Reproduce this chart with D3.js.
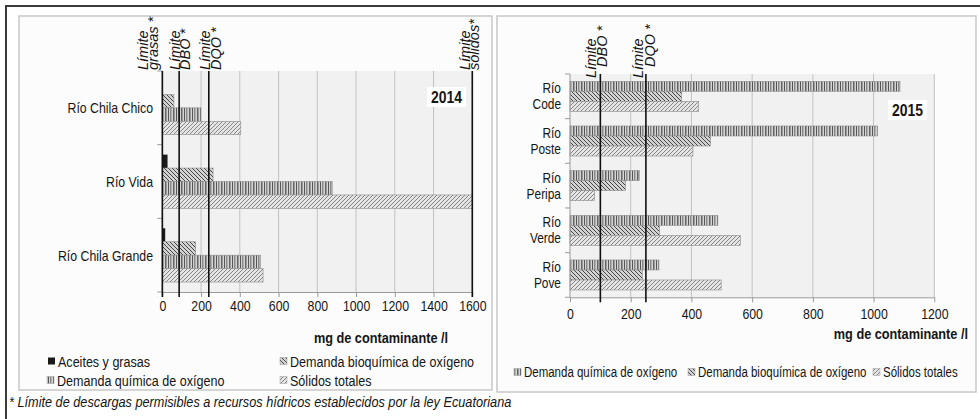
<!DOCTYPE html>
<html><head><meta charset="utf-8">
<script src="https://cdn.jsdelivr.net/npm/d3@7"></script>
<style>
body{margin:0;background:#fff;}
svg{display:block;}
text{font-family:"Liberation Sans",Arial,sans-serif;fill:#151515;}
</style></head><body>
<svg id="c" width="980" height="419"></svg>
<script>
// ---------- DATA ----------
const cats2014 = ["Río Chila Chico", "Río Vida", "Río Chila Grande"];
const aceites2014 = [3, 27, 15];
const dbo2014 = [60, 262, 172];
const dqo2014 = [199, 877, 508];
const solidos2014 = [405, 1600, 520];
const ticks2014 = [0, 200, 400, 600, 800, 1000, 1200, 1400, 1600];
const limitLabels2014 = [["Límite", "grasas *"], ["Límite", "DBO *"], ["Límite", "DQO *"], ["Límite", "sólidos*"]];
const limitValues2014 = [0.3, 87, 240, 1600];
const legend2014 = ["Aceites y grasas", "Demanda bioquímica de oxígeno", "Demanda química de oxígeno", "Sólidos totales"];

const cats2015 = [["Río", "Code"], ["Río", "Poste"], ["Río", "Peripa"], ["Río", "Verde"], ["Río", "Pove"]];
const dqo2015 = [1087, 1013, 229, 487, 293];
const dbo2015 = [368, 463, 183, 295, 238];
const solidos2015 = [424, 405, 81, 561, 498];
const ticks2015 = [0, 200, 400, 600, 800, 1000, 1200];
const limitLabels2015 = [["Límite", "DBO *"], ["Límite", "DQO *"]];
const limitValues2015 = [100, 250];
const legend2015 = ["Demanda química de oxígeno", "Demanda bioquímica de oxígeno", "Sólidos totales"];

const axisTitle = "mg de contaminante /l";
const footnote = "* Límite de descargas permisibles a recursos hídricos establecidos por la ley Ecuatoriana";

// ---------- SETUP ----------
const svg = d3.select("#c");
const defs = svg.append("defs");
function pat(id, w, h, bg, draw) {
  const p = defs.append("pattern").attr("id", id).attr("patternUnits", "userSpaceOnUse")
    .attr("width", w).attr("height", h);
  p.append("rect").attr("width", w).attr("height", h).attr("fill", bg);
  draw(p);
}
pat("pDBO", 4, 4, "#d2d2d2", p => p.append("path").attr("d", "M-1,-1L5,5M-1,3L1,5M3,-1L5,1").attr("stroke", "#464646").attr("stroke-width", 1));
pat("pSOL", 4, 4, "#e4e4e4", p => p.append("path").attr("d", "M-1,5L5,-1M-1,1L1,-1M3,5L5,3").attr("stroke", "#878787").attr("stroke-width", 1));
pat("pDQO", 8, 4, "#d4d4d4", p => {
  [[0, 1, "#555"], [2, 1, "#888"], [3, 1, "#b0b0b0"], [5, 1, "#626262"], [6, 1, "#9c9c9c"]]
    .forEach(([x, w, c]) => p.append("rect").attr("x", x).attr("width", w).attr("height", 4).attr("fill", c));
});
const FILL = {ace: "#1a1a1a", dbo: "url(#pDBO)", dqo: "url(#pDQO)", sol: "url(#pSOL)"};

// outer frame + panels
svg.append("path").attr("d", "M6,419V6H980").attr("fill", "none").attr("stroke", "#3a3a3a").attr("stroke-width", 2);
svg.append("rect").attr("x", 19).attr("y", 16).attr("width", 473).attr("height", 374)
  .attr("fill", "#fcfcfc").attr("stroke", "#c8c8c8").attr("stroke-width", 1.5);
svg.append("rect").attr("x", 497).attr("y", 16).attr("width", 479).attr("height", 376)
  .attr("fill", "#fcfcfc").attr("stroke", "#c8c8c8").attr("stroke-width", 1.5);

function drawChart(cfg) {
  const g = svg.append("g");
  const x = d3.scaleLinear().domain([0, cfg.ticks[cfg.ticks.length - 1]]).range([cfg.x0, cfg.x1]);
  const keys = cfg.series.map(s => s.key);
  const y0 = d3.scaleBand().domain(d3.range(cfg.cats.length)).range([cfg.y0, cfg.y1]);
  const y1 = d3.scaleBand().domain(keys).range([0, y0.bandwidth()]).paddingInner(0).paddingOuter(cfg.pad);

  g.append("rect").attr("x", cfg.x0).attr("y", cfg.y0).attr("width", cfg.x1 - cfg.x0).attr("height", cfg.y1 - cfg.y0).attr("fill", "#f1f1f1");
  // grid
  g.selectAll(".grid").data(cfg.ticks.slice(1)).join("line")
    .attr("x1", d => x(d)).attr("x2", d => x(d)).attr("y1", cfg.y0).attr("y2", cfg.y1)
    .attr("stroke", "#c2c2c2").attr("stroke-width", 1);
  // bars
  cfg.series.forEach(s => {
    g.selectAll(".b" + s.key).data(s.values).join("rect")
      .attr("x", x(0)).attr("y", (d, i) => y0(i) + y1(s.key))
      .attr("width", d => x(d) - x(0)).attr("height", y1.bandwidth())
      .attr("fill", FILL[s.key]).attr("stroke", s.key === "ace" ? "none" : "#8e8e8e").attr("stroke-width", 0.6);
  });
  // axes
  const axB = g.append("g").attr("transform", `translate(0,${cfg.y1})`)
    .call(d3.axisBottom(x).tickValues(cfg.ticks).tickFormat(d3.format("d")).tickSize(5).tickSizeOuter(0));
  axB.attr("font-family", null);
  axB.select(".domain").attr("stroke", "#9a9a9a");
  axB.selectAll(".tick line").attr("stroke", "#9a9a9a");
  axB.selectAll(".tick text").attr("font-size", 15).attr("fill", "#1a1a1a").attr("dy", null)
    .attr("y", cfg.tickY - cfg.y1).attr("dominant-baseline", "central");
  const bounds = d3.range(cfg.cats.length).map(i => y0(i)).concat([cfg.y1]);
  g.append("line").attr("x1", cfg.x0).attr("x2", cfg.x0).attr("y1", cfg.y0).attr("y2", cfg.y1).attr("stroke", "#9a9a9a");
  g.selectAll(".ct").data(bounds).join("line").attr("x1", cfg.x0 - 5).attr("x2", cfg.x0).attr("y1", d => d).attr("y2", d => d).attr("stroke", "#9a9a9a");
  // category labels
  cfg.cats.forEach((c, i) => {
    const lines = Array.isArray(c) ? c : [c];
    const cy = y0(i) + y0.bandwidth() / 2;
    lines.forEach((t, j) => {
      g.append("text").attr("x", cfg.catX).attr("y", cy + (j - (lines.length - 1) / 2) * cfg.catLH)
        .attr("text-anchor", "end").attr("dominant-baseline", "central").attr("font-size", cfg.catFS).text(t);
    });
  });
  // limit lines
  cfg.limits.forEach((v, i) => {
    const lx = x(v);
    g.append("line").attr("x1", lx).attr("x2", lx).attr("y1", cfg.y0).attr("y2", cfg.y1 + 5).attr("stroke", "#111").attr("stroke-width", 1.6);
    cfg.limitLabels[i].forEach((t, j) => {
      g.append("text").attr("class", "lim").attr("transform", `translate(${lx + cfg.limDx[i][j]},${cfg.limY[j]}) rotate(-90)`)
        .attr("font-style", "italic").attr("font-size", 14.5).attr("text-anchor", "start").text(t);
    });
  });
  // year box
  g.append("rect").attr("x", cfg.year.x).attr("y", cfg.year.y).attr("width", 39).attr("height", 20).attr("fill", "#fff");
  g.append("text").attr("x", cfg.year.x + 19.5).attr("y", cfg.year.y + 10.5).attr("text-anchor", "middle")
    .attr("dominant-baseline", "central").attr("font-weight", "bold").attr("font-size", 17).text(cfg.year.t);
  // axis title
  g.append("text").attr("x", cfg.title.x).attr("y", cfg.title.y).attr("text-anchor", cfg.title.anchor)
    .attr("dominant-baseline", "central").attr("font-weight", "bold").attr("font-size", 15.5).text(axisTitle);
  // legend
  cfg.legend.forEach((name, i) => {
    const p = cfg.legendPos[i];
    g.append("rect").attr("x", p[0]).attr("y", p[1] - 3.5).attr("width", 7).attr("height", 7)
      .attr("fill", FILL[cfg.legendKeys[i]]).attr("stroke", cfg.legendKeys[i] === "ace" ? "none" : "#999").attr("stroke-width", 0.5);
    g.append("text").attr("x", p[0] + 10).attr("y", p[1]).attr("dominant-baseline", "central")
      .attr("font-size", cfg.legendFS).text(name);
  });
}

drawChart({
  cats: cats2014, ticks: ticks2014, x0: 162.3, x1: 472.3, y0: 71, y1: 292, pad: 0.74,
  series: [{key: "ace", values: aceites2014}, {key: "dbo", values: dbo2014}, {key: "dqo", values: dqo2014}, {key: "sol", values: solidos2014}],
  tickY: 305, catX: 153, catLH: 16, catFS: 15,
  limits: limitValues2014, limitLabels: limitLabels2014,
  limDx: [[-14, -4], [1, 11], [1.5, 12.5], [-2, 7]], limY: [70, 70],
  year: {x: 427, y: 87, t: "2014"},
  title: {x: 381, y: 337, anchor: "middle"},
  legend: legend2014, legendKeys: ["ace", "dbo", "dqo", "sol"],
  legendPos: [[48, 361], [280, 361], [47, 380], [280, 380]], legendFS: 15.3
});
drawChart({
  cats: cats2015, ticks: ticks2015, x0: 570, x1: 934.3, y0: 74, y1: 297.3, pad: 0.73,
  series: [{key: "dqo", values: dqo2015}, {key: "dbo", values: dbo2015}, {key: "sol", values: solidos2015}],
  tickY: 314, catX: 561, catLH: 16, catFS: 14.5,
  limits: limitValues2015, limitLabels: limitLabels2015,
  limDx: [[-4, 7], [-3, 9.5]], limY: [78, 67],
  year: {x: 888, y: 100, t: "2015"},
  title: {x: 968, y: 333, anchor: "end"},
  legend: legend2015, legendKeys: ["dqo", "dbo", "sol"],
  legendPos: [[514, 372], [688, 372], [873, 372]], legendFS: 14
});

svg.append("text").attr("x", 9).attr("y", 401).attr("dominant-baseline", "central")
  .attr("font-style", "italic").attr("font-size", 15.5).text(footnote);

// condense text horizontally (narrow typeface look); limit labels keep natural width
svg.selectAll("text").each(function () {
  const L = this.getComputedTextLength();
  const f = this.classList.contains("lim") ? 1.0 : 0.82;
  d3.select(this).attr("textLength", L * f).attr("lengthAdjust", "spacingAndGlyphs");
});
</script>
</body></html>
